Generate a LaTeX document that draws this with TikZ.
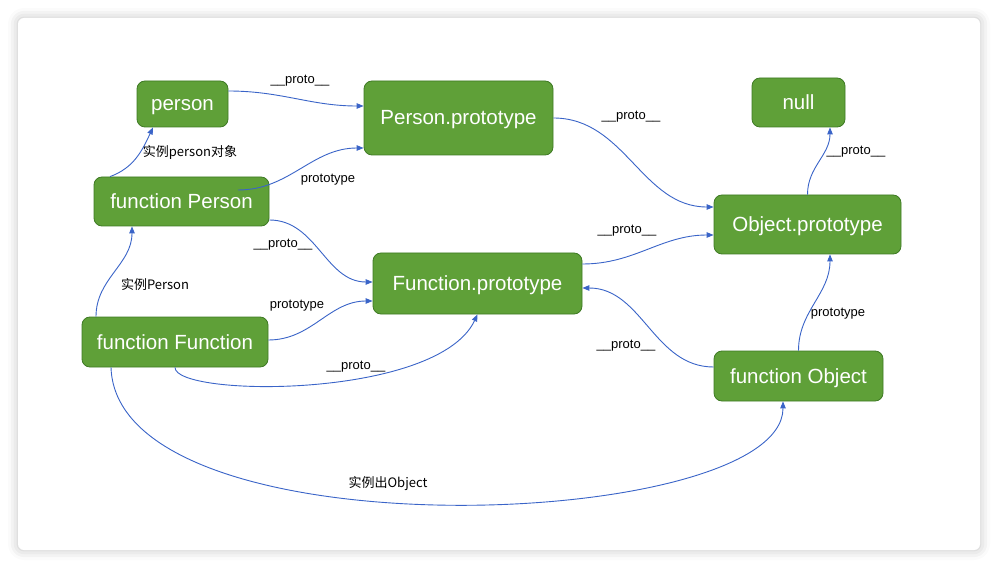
\documentclass[tikz,border=0pt]{standalone}
\usepackage{fontspec}
\setmainfont{Liberation Sans}
\newfontfamily\cjk{Noto Sans CJK SC}
\usetikzlibrary{arrows.meta,shadows.blur}
\definecolor{boxgreen}{HTML}{5FA038}
\definecolor{boxedge}{HTML}{3E7A24}
\definecolor{linkblue}{HTML}{3A64C8}

\begin{document}
\begin{tikzpicture}[x=1pt,y=-1pt,
  obj/.style={draw=boxedge,fill=boxgreen,rounded corners=8pt,text=white,line width=.8pt,
    inner sep=0pt,text height=14pt,text depth=0pt,font=\fontsize{20.5}{24}\selectfont},
  link/.style={draw=linkblue,line width=.9pt,-{Triangle[length=7pt,width=5.5pt]}},
  lbl/.style={inner sep=0pt,font=\fontsize{13}{15}\selectfont},
  zh/.style={inner sep=0pt,font=\cjk\fontsize{13}{15}\selectfont}]
\useasboundingbox (0,0) rectangle (998,569);

% card
\fill[white,rounded corners=6pt,blur shadow={shadow xshift=0pt,shadow yshift=0pt,
  shadow blur radius=10pt,shadow opacity=25}] (18,18) rectangle (980,550);

% objects
\node[obj,minimum width=91pt,minimum height=46pt] (person) at (182.5,104) {person};
\node[obj,minimum width=189pt,minimum height=74pt] (pproto) at (458.5,118) {Person.prototype};
\node[obj,minimum width=93pt,minimum height=49pt] (null) at (798.5,102.5) {null};
\node[obj,minimum width=175pt,minimum height=49pt] (fperson) at (181.5,201.5) {function Person};
\node[obj,minimum width=187pt,minimum height=59pt] (oproto) at (807.5,224.5) {Object.prototype};
\node[obj,minimum width=209pt,minimum height=61pt] (fproto) at (477.5,283.5) {Function.prototype};
\node[obj,minimum width=186pt,minimum height=50pt] (ffunc) at (175,342) {function Function};
\node[obj,minimum width=169pt,minimum height=50pt] (fobject) at (798.5,376) {function Object};

% links
\draw[link] ([yshift=13pt]person.east) to[out=0,in=180] ([yshift=12pt]pproto.west);
\draw[link] ([xshift=-71.5pt]fperson.north) to[out=20,in=245] ([xshift=-29.5pt]person.south);
\draw[link] ([xshift=56.5pt,yshift=11.5pt]fperson.center) to[out=0,in=180] ([yshift=-30pt]pproto.west);
\draw[link] (pproto.east) to[out=0,in=180] ([yshift=17.5pt]oproto.west);
\draw[link] ([yshift=-18.5pt]fperson.east) to[out=0,in=180] ([yshift=1.5pt]fproto.west);
\draw[link] ([xshift=-79pt]ffunc.north) to[out=90,in=-90] ([xshift=-49.5pt]fperson.south);
\draw[link] ([yshift=2pt]ffunc.east) to[out=0,in=180] ([yshift=-17.5pt]fproto.west);
\draw[link] (ffunc.south) .. controls +(0,30) and +(-40,85) .. (fproto.south);
\draw[link] ([xshift=-64pt]ffunc.south) .. controls +(6,190) and +(0,130) .. ([xshift=-15.5pt]fobject.south);
\draw[link] ([yshift=19.5pt]fproto.east) to[out=0,in=180] ([yshift=-10.5pt]oproto.west);
\draw[link] ([yshift=9pt]fobject.west) to[out=180,in=0] ([yshift=-4.5pt]fproto.east);
\draw[link] (fobject.north) to[out=90,in=-90] ([xshift=22.5pt]oproto.south);
\draw[link] (oproto.north) to[out=90,in=-90] ([xshift=31.5pt]null.south);

% labels
\node[lbl] (l1) at (300,81) {\_\_proto\_\_};
\node[zh] (l2) at (190,152) {实例person对象};
\node[lbl] (l3) at (328,180) {prototype};
\node[lbl] (l4) at (631,117) {\_\_proto\_\_};
\node[lbl] (l5) at (283,245) {\_\_proto\_\_};
\node[lbl] (l6) at (627,231) {\_\_proto\_\_};
\node[zh] (l7) at (155,285) {实例Person};
\node[lbl] (l8) at (297,306) {prototype};
\node[lbl] (l9) at (356,367) {\_\_proto\_\_};
\node[lbl] (l10) at (626,346) {\_\_proto\_\_};
\node[lbl] (l11) at (838,314) {prototype};
\node[lbl] (l12) at (856,152) {\_\_proto\_\_};
\node[zh] (l13) at (388,484) {实例出Object};
\end{tikzpicture}
\end{document}
